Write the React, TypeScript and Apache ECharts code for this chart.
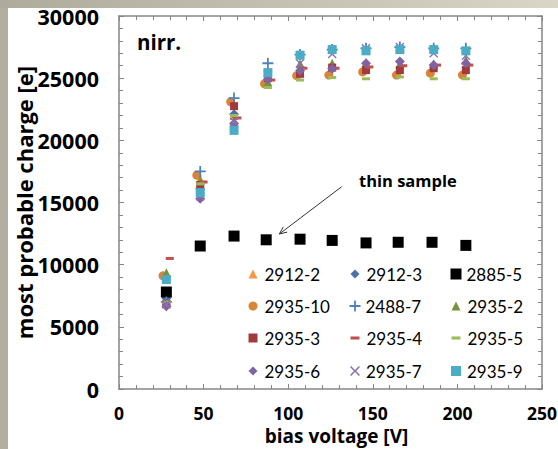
import React, { useEffect, useRef } from "react";
import * as echarts from "echarts";

// Bias voltages of the scans (V)
const VOLTAGES = [28, 48, 68, 88, 107, 126, 146, 166, 186, 205];
const VOLTAGES_EARLY = [28, 48, 68];
const VOLTAGES_2885_5 = [28, 48, 68, 87, 107, 126, 146, 165, 185, 205];
const VOLTAGES_2935_10 = [26, 46, 66, 86, 105, 124, 144, 164, 184, 203];
const VOLTAGES_2935_4 = [30, 50, 70, 90, 109, 128, 148, 168, 188, 207];

// Most probable charge (e) per sample
const Q_2912_2 = [7100, 16900, 22000];
const Q_2912_3 = [7300, 16100, 22100];
const Q_2885_5 = [7800, 11500, 12300, 12000, 12050, 11950, 11750, 11800, 11800, 11550];
const Q_2935_10 = [9100, 17200, 23100, 24550, 25200, 25250, 25500, 25250, 25400, 25250];
const Q_2488_7 = [7000, 17500, 23400, 26200, 26900, 27300, 27400, 27500, 27400, 27400];
const Q_2935_2 = [9350, 16750, 21500, 24700, 26150, 26200, 26250, 26150, 26150, 26450];
const Q_2935_3 = [6850, 16400, 22750, 25000, 25350, 25850, 25650, 25650, 25800, 25650];
const Q_2935_4 = [10500, 16650, 21800, 24850, 25800, 25800, 25900, 26000, 26050, 26050];
const Q_2935_5 = [7000, 16500, 22000, 24250, 24850, 25050, 24950, 25100, 24950, 24950];
const Q_2935_6 = [6650, 15300, 21350, 24900, 25600, 25750, 26200, 26350, 26050, 26200];
const Q_2935_7 = [6800, 15500, 21500, 25300, 26200, 26950, 27400, 27500, 27000, 26800];
const Q_2935_9 = [8800, 15800, 20800, 25450, 26850, 27300, 27200, 27300, 27300, 27200];

const X_TICKS = [0, 50, 100, 150, 200, 250];
const Y_TICKS = [0, 5000, 10000, 15000, 20000, 25000, 30000];

const PLUS = "path://M4.2,0H5.8V4.2H10V5.8H5.8V10H4.2V5.8H0V4.2H4.2Z";
const CROSS = "path://M1.1,0L5,3.9L8.9,0L10,1.1L6.1,5L10,8.9L8.9,10L5,6.1L1.1,10L0,8.9L3.9,5L0,1.1Z";
const DASH = "path://M0,0H10V3.4H0Z";

type Spec = {
  name: string;
  xs: number[];
  ys: number[];
  symbol: string;
  size: number | number[];
  color: string;
  icon: string;
};

const SERIES: Spec[] = [
  { name: "2912-2", xs: VOLTAGES_EARLY, ys: Q_2912_2, symbol: "triangle", size: 9, color: "#F79646", icon: "triangle" },
  { name: "2912-3", xs: VOLTAGES_EARLY, ys: Q_2912_3, symbol: "diamond", size: 10, color: "#4A70A8", icon: "diamond" },
  { name: "2885-5", xs: VOLTAGES_2885_5, ys: Q_2885_5, symbol: "rect", size: 11, color: "#000000", icon: "rect" },
  { name: "2935-10", xs: VOLTAGES_2935_10, ys: Q_2935_10, symbol: "circle", size: 9, color: "#D8843A", icon: "circle" },
  { name: "2488-7", xs: VOLTAGES, ys: Q_2488_7, symbol: PLUS, size: 11, color: "#4F81BD", icon: PLUS },
  { name: "2935-2", xs: VOLTAGES, ys: Q_2935_2, symbol: "triangle", size: 9, color: "#77933C", icon: "triangle" },
  { name: "2935-3", xs: VOLTAGES, ys: Q_2935_3, symbol: "rect", size: 8, color: "#A2393A", icon: "rect" },
  { name: "2935-4", xs: VOLTAGES_2935_4, ys: Q_2935_4, symbol: "rect", size: [8, 3], color: "#C0504D", icon: DASH },
  { name: "2935-5", xs: VOLTAGES, ys: Q_2935_5, symbol: "rect", size: [8, 3], color: "#9BBB59", icon: DASH },
  { name: "2935-6", xs: VOLTAGES, ys: Q_2935_6, symbol: "diamond", size: 10, color: "#8064A2", icon: "diamond" },
  { name: "2935-7", xs: VOLTAGES, ys: Q_2935_7, symbol: CROSS, size: 9, color: "#8A72B0", icon: CROSS },
  { name: "2935-9", xs: VOLTAGES, ys: Q_2935_9, symbol: "rect", size: 9, color: "#4BACC6", icon: "rect" },
];

// Legend icon box per entry (px)
const ICON_BOX = [9, 9, 11, 9, 11, 9, 9, 9, 9, 9, 10, 10];

// Legend grid: 3 columns x 4 rows inside the plot
const LEGEND_COLS = [253, 355, 456];
const LEGEND_ROWS = [274, 306, 338, 371];

const FONT = "Lato, 'Open Sans', sans-serif";
const BOLD_FONT = "'Open Sans', Lato, sans-serif";
const AXIS_COLOR = "#868686";

export default function App() {
  const ref = useRef<HTMLDivElement>(null);

  useEffect(() => {
    if (!ref.current) return;
    const chart = echarts.init(ref.current, undefined, { renderer: "svg" });

    const axisCommon = {
      axisLine: { show: true, onZero: false, lineStyle: { color: AXIS_COLOR, width: 1.5 } },
      axisTick: { show: true, inside: true, length: 5, lineStyle: { color: AXIS_COLOR, width: 1 } },
      minorTick: { show: true, splitNumber: 5, length: 4, lineStyle: { color: AXIS_COLOR, width: 1 } },
      splitLine: { show: false },
    };

    const legends = SERIES.map((s, i) => {
      const col = i % 3;
      const row = Math.floor(i / 3);
      const box = ICON_BOX[i];
      return {
        show: true,
        orient: "horizontal",
        left: LEGEND_COLS[col] - box / 2,
        top: LEGEND_ROWS[row] - 10,
        padding: 0,
        itemWidth: box,
        itemHeight: box,
        itemGap: 0,
        symbolKeepAspect: true,
        selectedMode: false,
        data: [{ name: s.name, icon: s.icon }],
        textStyle: {
          fontFamily: FONT,
          fontSize: 17,
          color: "#000",
          lineHeight: 20,
          padding: [0, 0, 0, 11 - box],
        },
      };
    });

    const plain = (v: number) => String(v);

    const option: any = {
      animation: false,
      backgroundColor: "#ffffff",
      grid: {
        left: 119,
        top: 16,
        right: 16,
        bottom: 60,
        containLabel: false,
        outerBoundsMode: "none",
      },
      xAxis: [
        {
          type: "value",
          position: "bottom",
          min: X_TICKS[0],
          max: X_TICKS[X_TICKS.length - 1],
          interval: X_TICKS[1] - X_TICKS[0],
          name: "bias voltage [V]",
          nameLocation: "middle",
          nameGap: 37,
          nameMoveOverlap: false,
          nameTextStyle: {
            fontFamily: BOLD_FONT,
            fontSize: 19,
            fontWeight: "bold",
            color: "#000",
            verticalAlign: "top",
            lineHeight: 20,
            padding: [0, 0, 0, 12],
          },
          axisLabel: {
            margin: 15,
            lineHeight: 18,
            verticalAlign: "top",
            formatter: plain,
            fontFamily: BOLD_FONT,
            fontSize: 17.5,
            fontWeight: "bold",
            color: "#000",
          },
          ...axisCommon,
        },
        {
          type: "value",
          position: "top",
          min: X_TICKS[0],
          max: X_TICKS[X_TICKS.length - 1],
          interval: X_TICKS[1] - X_TICKS[0],
          axisLabel: { show: false },
          ...axisCommon,
        },
      ],
      yAxis: [
        {
          type: "value",
          position: "left",
          min: Y_TICKS[0],
          max: Y_TICKS[Y_TICKS.length - 1],
          interval: Y_TICKS[1] - Y_TICKS[0],
          name: "most probable charge [e]",
          nameLocation: "middle",
          nameGap: 84,
          nameMoveOverlap: false,
          nameTextStyle: { fontFamily: BOLD_FONT, fontSize: 22, fontWeight: "bold", color: "#000" },
          axisLabel: { margin: 20, formatter: plain, fontFamily: BOLD_FONT, fontSize: 21.5, fontWeight: "bold", color: "#000" },
          ...axisCommon,
        },
        {
          type: "value",
          position: "right",
          min: Y_TICKS[0],
          max: Y_TICKS[Y_TICKS.length - 1],
          interval: Y_TICKS[1] - Y_TICKS[0],
          axisLabel: { show: false },
          ...axisCommon,
        },
      ],
      legend: legends,
      series: SERIES.map((s) => ({
        type: "scatter",
        name: s.name,
        xAxisIndex: 0,
        yAxisIndex: 0,
        symbol: s.symbol,
        symbolSize: s.size,
        itemStyle: { color: s.color, opacity: 1 },
        emphasis: { disabled: true },
        data: s.xs.map((x, k) => [x, s.ys[k]]),
      })),
    };

    chart.setOption(option);

    // Annotation arrow pointing at the thin-sample series
    const from = chart.convertToPixel({ xAxisIndex: 0, yAxisIndex: 0 }, [131.6, 16270]) as number[];
    const to = chart.convertToPixel({ xAxisIndex: 0, yAxisIndex: 0 }, [94.8, 12470]) as number[];
    const ang = Math.atan2(from[1] - to[1], from[0] - to[0]);
    const head = 8;
    const spread = 0.42;
    const h1 = [to[0] + head * Math.cos(ang + spread), to[1] + head * Math.sin(ang + spread)];
    const h2 = [to[0] + head * Math.cos(ang - spread), to[1] + head * Math.sin(ang - spread)];

    chart.setOption({
      graphic: [
        { type: "rect", z: -10, shape: { x: 0, y: 0, width: 8, height: 449 }, style: { fill: "#b2afa1" } },
        {
          type: "rect",
          z: -10,
          shape: { x: 0, y: 0, width: 558, height: 8 },
          style: {
            fill: new echarts.graphic.LinearGradient(0, 0, 1, 0, [
              { offset: 0, color: "#aeab9c" },
              { offset: 1, color: "#d9d6c6" },
            ]),
          },
        },
        {
          type: "text",
          left: 137,
          top: 31,
          style: { text: "nirr.", fontFamily: BOLD_FONT, fontSize: 20.5, fontWeight: "bold", fill: "#000" },
        },
        {
          type: "text",
          left: 359,
          top: 172,
          style: { text: "thin sample", fontFamily: BOLD_FONT, fontSize: 16.5, fontWeight: "bold", fill: "#000" },
        },
        {
          type: "line",
          shape: { x1: from[0], y1: from[1], x2: to[0], y2: to[1] },
          style: { stroke: "#333", lineWidth: 1 },
        },
        {
          type: "polyline",
          shape: { points: [h1, to, h2] },
          style: { stroke: "#333", lineWidth: 1, fill: "none" },
        },
      ],
    });

    return () => chart.dispose();
  }, []);

  return (
    <div
      ref={ref}
      style={{ position: "fixed", left: 0, top: 0, width: 558, height: 449 }}
    />
  );
}
